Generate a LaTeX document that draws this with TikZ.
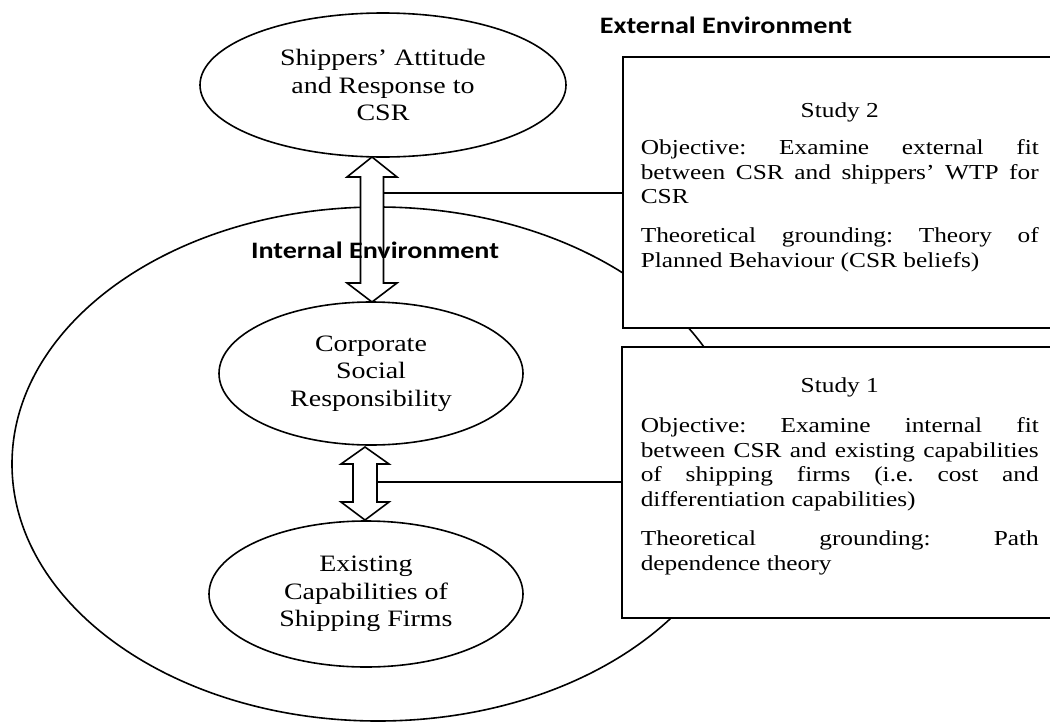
\documentclass[tikz,border=0pt]{standalone}
\usepackage{fontspec}
\setmainfont{Liberation Serif}[FakeStretch=1.19]
\newfontfamily\envfont{Carlito}[FakeStretch=1.19]
\usetikzlibrary{shapes.geometric, calc}
\frenchspacing

\begin{document}
\begin{tikzpicture}[x=1pt, y=-1pt, line width=1.6pt,
  oval/.style={ellipse, draw, inner sep=0pt, align=center, font=\fontsize{23.5}{27.5}\selectfont},
  studybox/.style={rectangle, draw, fill=white, anchor=north west, inner sep=0pt},
  studytext/.style={anchor=north west, inner sep=0pt, text width=398pt, align=justify,
    font=\fontsize{21.3}{24.5}\selectfont},
  envlabel/.style={inner sep=0pt, font=\envfont\bfseries\fontsize{23.6}{28}\selectfont},
  hollow/.style={draw, fill=white, line join=miter},
]
  \useasboundingbox (0,0) rectangle (1050,723);
  \clip (0,0) rectangle (1050,723);

  % internal environment
  \node[oval, minimum width=732pt, minimum height=514pt] (internal) at (378,464) {};

  \node[oval, minimum width=366pt, minimum height=144pt] (shippers) at (383,85)
    {Shippers’ Attitude\\and Response to\\CSR};
  \node[oval, minimum width=304pt, minimum height=143pt] (csr) at (371,373.5)
    {Corporate\\Social\\Responsibility};
  \node[oval, minimum width=314pt, minimum height=146pt] (capab) at (366,594)
    {Existing\\Capabilities of\\Shipping Firms};

  % hollow double arrows
  \coordinate (a1) at (372,157);
  \coordinate (a2) at (372,302);
  \draw[hollow] (a1) -- ++(25,20) -- ++(-13.5,0) -- ($(a2)+(11.5,-19)$) -- ++(13.5,0)
    -- (a2) -- ++(-25,-19) -- ++(13.5,0) -- ($(a1)+(-11.5,20)$) -- ++(-13.5,0) -- cycle;
  \coordinate (b1) at (365,447);
  \coordinate (b2) at (365,520);
  \draw[hollow] (b1) -- ++(24,17) -- ++(-12,0) -- ($(b2)+(12,-18)$) -- ++(12,0)
    -- (b2) -- ++(-24,-18) -- ++(12,0) -- ($(b1)+(-12,17)$) -- ++(-12,0) -- cycle;

  \node[envlabel] (extlabel) at (726,25) {External Environment};
  \node[envlabel] (intlabel) at (375,250) {Internal Environment};

  % study boxes
  \node[studybox, minimum width=450pt, minimum height=271pt] (study2) at (622,56) {};
  \node[studybox, minimum width=450pt, minimum height=271pt] (study1) at (621,346) {};

  \coordinate (j1) at (383.5,193);
  \coordinate (j2) at (377,482);
  \draw (j1) -- (j1 -| study2.west);
  \draw (j2) -- (j2 -| study1.west);

  \node[studytext] (txt2) at (640,100) {\hyphenpenalty=10000\relax
    {\centering\strut Study 2\par}
    \vspace{12.5pt}
    Objective: Examine external fit\linebreak between CSR and shippers’ WTP for\linebreak CSR\par
    \vspace{14.5pt}
    Theoretical grounding: Theory of\linebreak Planned Behaviour (CSR beliefs)};
  \node[studytext] (txt1) at (640,375) {\hyphenpenalty=10000\relax
    {\centering\strut Study 1\par}
    \vspace{15.5pt}
    Objective: Examine internal fit\linebreak between CSR and existing capabilities\linebreak
    of shipping firms (i.e. cost and\linebreak differentiation capabilities)\par
    \vspace{15pt}
    Theoretical grounding: Path\linebreak dependence theory};
\end{tikzpicture}
\end{document}
